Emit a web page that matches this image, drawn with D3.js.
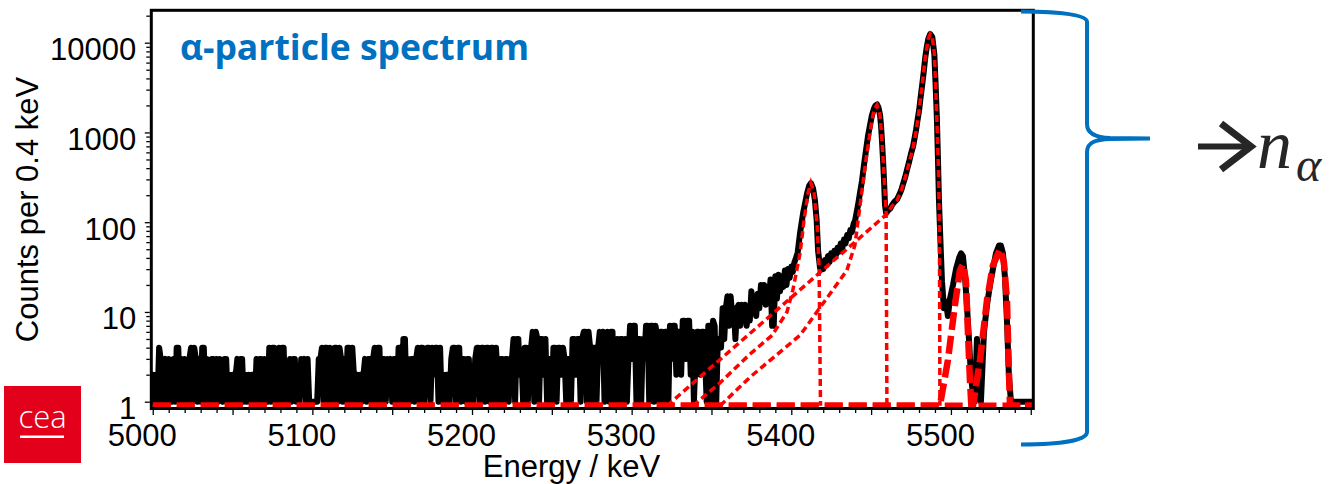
<!DOCTYPE html>
<html>
<head>
<meta charset="utf-8">
<script src="https://cdn.jsdelivr.net/npm/d3@7"></script>
<style>
  html, body { margin: 0; padding: 0; background: #ffffff; }
  svg { display: block; }
</style>
</head>
<body>
<svg id="chart" width="1332" height="484"></svg>
<script>
// ---- measured spectrum: counts per bin, 1 keV steps from 5000 keV ----
const lowStart = 5000;
const lowStep = 1;
const lowCounts = [
  2,1,2,1,4,3,1,2,3,1,   3,2,1,3,1,4,4,1,3,1,   3,2,1,3,4,1,4,3,1,3,   1,4,4,1,3,2,1,3,3,1,
  3,1,3,2,1,3,3,1,2,1,   2,1,2,3,1,3,3,1,2,1,   2,1,2,2,1,3,1,3,3,1,   3,2,1,4,1,4,4,1,3,4,
  1,4,4,1,2,1,3,1,3,3,   1,2,1,3,2,3,1,3,1,1,   1,1,1,1,3,3,4,1,4,4,   1,4,3,1,4,4,1,4,3,1,
  3,1,4,4,1,4,2,1,2,1,   2,1,2,3,1,3,3,1,3,4,   1,4,4,1,3,3,1,3,2,3,   1,3,3,1,4,4,1,5,5,1,
  3,1,3,3,1,3,4,1,4,4,   1,2,4,4,1,4,2,4,4,1,   4,1,2,1,2,2,1,3,4,4,   1,4,4,1,3,3,1,3,3,1,
  2,1,3,4,4,1,4,4,1,4,   4,1,4,4,1,4,2,1,3,3,   1,3,3,1,3,3,5,1,5,5,   2,3,1,4,4,1,4,4,6,1,
  6,5,1,5,5,2,5,1,3,3,   1,4,4,1,4,4,2,4,3,1,   3,3,1,5,5,2,5,5,1,5,   6,6,1,6,4,1,4,4,1,4,
  6,3,6,1,4,6,1,6,6,1,   3,5,1,5,5,1,5,1,3,7,   3,7,7,1,5,5,1,5,3,7,   7,1,7,7,1,7,5,1,6,6,
  1,6,6,1,7,3,7,7,2,6,   6,2,8,8,3,8,8,2,6,1,   3,6,6,2,6,6,3,1,7,7,   1,8,7,1,5,5,4,11,5,11,
  15,7,15,9,11,5,11,12,7,12,  8,12,7,10,8,17,12,15,9,16,  11,20,13,20,12,19,14,23,7,7,
  25,14,26,17,25,19,29,20,30,24,  32,28,36,40,46
];

// ---- measured spectrum in the peak region ----
const peakEnergy = [
  5405.5,5407.4,5409.9,5411.2,5412.3,5413.6,5414.8,5415.9,5416.8,5418.0,
  5419,5420,5421,5422,5423,5424,5425,5426,5427,5428,5429,5430,5431,5432,5433,5434,5435,5436,5437,5438,5439,5440,
  5441.8,5443,5444.3,5445.5,5446.8,5448,5449.3,5450.5,5451.8,5452.8,5453.7,5454.6,5455.6,5456.2,5456.8,5457.5,5458.1,5458.7,5459.4,
  5460.6,5462,5463.1,5464.5,5466.3,5467.5,5468.8,5470,5471.3,5472.5,5473.8,5475,5476.3,5477.3,5478.2,5479.1,5480.1,5481,5482,5483,
  5483.9,5484.9,5485.8,5487.0,5488.3,5489.6,5490.3,5491.2,5491.9,5492.5,5493.4,5494.4,5495.6,5496.9,5498.1,5499.4,
  5501.3,5503.2,5505.1,5506.3,5507.5,5508.8,5510.0,5511.3,5512.5,5513.8,5515.0,5516.3,5517.6,5518.8,
  5520.7,5522.6,5524.5,5526.3,5528.2,5530.1,5531.3,5532.6,5533.8,5535.1,5536.3,5537.6,5552
];
const peakCounts = [
  76,126,210,255,272,240,176,105,48,31,
  36,30,38,33,42,36,45,40,48,43,52,47,58,52,64,58,72,66,82,78,95,105,
  155,210,290,430,630,900,1200,1550,1840,2000,2050,1900,1560,1200,820,480,290,155,126,
  135,142,155,168,180,200,225,265,315,385,470,580,700,880,1080,1380,1780,2450,3380,4800,
  6800,9000,11000,12500,11600,7500,3800,1450,490,176,63,22,11,13,9,14,
  20,30,40,45,42,25,12,5,2,1.2,1,5,2,1,
  6,12,20,30,45,55,55,45,25,8,2,1,1
];

// ---- fitted line components (thin dashes) ----
const fit5412E = [5338.4,5355.3,5374.2,5388.0,5397.3,5401.0,5405.5,5408.0,5410.5,5412.3,5414.2,5416.2,5417.4,5418.3];
const fit5412C = [0.9,1.62,3.4,5.5,10,17.6,45,106,212,274,217,93,32,0.9];
const fit5454E = [5355.4,5374.2,5405.5,5434.8,5439.9,5443.1,5446.8,5450.0,5451.8,5453.7,5455.6,5456.8,5458.1,5459.4,5459.9];
const fit5454C = [0.9,1.88,5.5,29,56,155,495,1200,1780,2020,1560,815,333,126,0.9];
const fit5487E = [5322.1,5459.9,5463.1,5466.3,5468.8,5471.3,5473.8,5476.3,5478.2,5480.1,5482.0,5483.9,5485.8,5487.0,5488.3,5489.6,5490.3,5491.2,5492.2,5492.8,5493.1];
const fit5487C = [0.9,123,151,176,223,310,457,686,1035,1780,3370,6760,11000,12500,11570,7670,3830,1380,380,82,0.9];

// ---- fitted weak lines (thick dashes) ----
const fit5507E = [5000,5493.1,5498.1,5502.5,5505.6,5507.5,5509.4,5510.6,5511.9,5512.8,5552];
const fit5507C = [0.9,0.9,2.9,11.9,29,34,22.7,6.3,1.75,0.9,0.9];
const fit5531E = [5000,5513.8,5518.2,5522.6,5526.3,5530.7,5533.2,5535.1,5536.3,5537.0,5552];
const fit5531C = [0.9,0.9,2.9,13.6,33,50,36,13.6,2.25,0.9,0.9];

// ---- axis ticks ----
const yMajorTicks = [1, 10, 100, 1000, 10000];
const xLabelTicks = [5000, 5100, 5200, 5300, 5400, 5500];

// ---------------------------------------------------------------
const svg = d3.select("#chart");
const plot = { left: 151.3, right: 1033.3, top: 10.3, bottom: 408.5 };
const axisFont = "'Liberation Sans', Arial, sans-serif";

const x = d3.scaleLinear().domain([4999.1, 5551.6]).range([plot.left, plot.right]);
const y = d3.scaleLog().domain([0.84, 22960]).range([plot.bottom, plot.top]);
const floorCount = 0.9;

const line = d3.line()
  .x(d => x(d[0]))
  .y(d => y(Math.max(d[1], floorCount)));

const pairs = (es, cs) => es.map((e, i) => [e, cs[i]]);

const spectrum = lowCounts.map((c, i) => [lowStart + i * lowStep, c])
  .concat(pairs(peakEnergy, peakCounts));

svg.append("defs").append("clipPath").attr("id", "plotClip")
  .append("rect")
  .attr("x", plot.left).attr("y", plot.top)
  .attr("width", plot.right - plot.left).attr("height", plot.bottom - plot.top);

const g = svg.append("g").attr("clip-path", "url(#plotClip)");

// measured spectrum
g.append("path")
  .datum(spectrum)
  .attr("d", line)
  .attr("fill", "none")
  .attr("stroke", "#000")
  .attr("stroke-width", 6)
  .attr("stroke-linejoin", "round")
  .attr("stroke-linecap", "round");

// thin fitted components
[[fit5412E, fit5412C], [fit5454E, fit5454C], [fit5487E, fit5487C]].forEach(([es, cs]) => {
  g.append("path")
    .datum(pairs(es, cs))
    .attr("d", line)
    .attr("fill", "none")
    .attr("stroke", "#ff0000")
    .attr("stroke-width", 3.5)
    .attr("stroke-dasharray", "7,4");
});

// thick fitted components
[[fit5507E, fit5507C], [fit5531E, fit5531C]].forEach(([es, cs]) => {
  g.append("path")
    .datum(pairs(es, cs))
    .attr("d", line)
    .attr("fill", "none")
    .attr("stroke", "#ff0000")
    .attr("stroke-width", 6.5)
    .attr("stroke-dasharray", "18,6");
});

// frame
svg.append("rect")
  .attr("x", plot.left).attr("y", plot.top)
  .attr("width", plot.right - plot.left).attr("height", plot.bottom - plot.top)
  .attr("fill", "none").attr("stroke", "#000").attr("stroke-width", 3);

// y axis: minor ticks
const yMinor = [];
[1, 10, 100, 1000, 10000].forEach(dec => {
  for (let k = 2; k <= 9; k++) if (dec * k < 22960) yMinor.push(dec * k);
});
const yMinorAxis = svg.append("g").attr("transform", `translate(${plot.left - 1.5},0)`)
  .call(d3.axisLeft(y).tickValues(yMinor).tickSize(3.5).tickFormat(""));
yMinorAxis.select(".domain").remove();

const yAxis = svg.append("g").attr("transform", `translate(${plot.left - 1.5},0)`)
  .call(d3.axisLeft(y).tickValues(yMajorTicks).tickSize(5).tickPadding(8.6).tickFormat(d3.format("d")));
yAxis.select(".domain").remove();
yAxis.selectAll("text")
  .attr("dy", 17)
  .attr("font-family", axisFont)
  .attr("font-size", 31)
  .attr("fill", "#000");

// x axis
const xMinor = d3.range(5000, 5551, 10).filter(v => v % 50 !== 0);
const xMid = d3.range(5000, 5551, 50).filter(v => v % 100 !== 0);
const xMinorAxis = svg.append("g").attr("transform", `translate(0,${plot.bottom + 1.5})`)
  .call(d3.axisBottom(x).tickValues(xMinor).tickSize(3).tickFormat(""));
xMinorAxis.select(".domain").remove();
const xMidAxis = svg.append("g").attr("transform", `translate(0,${plot.bottom + 1.5})`)
  .call(d3.axisBottom(x).tickValues(xMid).tickSize(5).tickFormat(""));
xMidAxis.select(".domain").remove();

const xAxis = svg.append("g").attr("transform", `translate(0,${plot.bottom + 1.5})`)
  .call(d3.axisBottom(x).tickValues(xLabelTicks).tickSize(5).tickFormat(d3.format("d")));
xAxis.select(".domain").remove();
xAxis.selectAll("text")
  .attr("x", -11)
  .attr("y", 35.5)
  .attr("dy", 0)
  .attr("font-family", axisFont)
  .attr("font-size", 31)
  .attr("fill", "#000");

svg.selectAll(".tick line").attr("stroke", "#000").attr("stroke-width", 1.3);

// axis titles
svg.append("text")
  .attr("transform", "translate(37.5,209.5) rotate(-90)")
  .attr("text-anchor", "middle")
  .attr("font-family", axisFont)
  .attr("font-size", 31)
  .attr("fill", "#000")
  .text("Counts per 0.4 keV");

svg.append("text")
  .attr("x", 571.5).attr("y", 477)
  .attr("text-anchor", "middle")
  .attr("font-family", axisFont)
  .attr("font-size", 31)
  .attr("fill", "#000")
  .text("Energy / keV");

// chart title
svg.append("text")
  .attr("x", 180).attr("y", 60)
  .attr("font-family", "'Open Sans', sans-serif")
  .attr("font-weight", 700)
  .attr("font-size", 35.5)
  .attr("fill", "#0070C0")
  .text("α-particle spectrum");

// curly brace grouping the spectrum
svg.append("path")
  .attr("d", "M1021,11.5 C1062,11.5 1087,15 1087,22 L1087,124 C1087,134 1096,137.5 1110,138 L1150,138.5 " +
             "L1110,139 C1096,139.5 1087,142 1087,152 L1087,432 C1087,440 1062,444.5 1021,444.5")
  .attr("fill", "none")
  .attr("stroke", "#0070C0")
  .attr("stroke-width", 4);

// arrow
svg.append("path")
  .attr("d", "M1198,146.5 L1247,146.5")
  .attr("stroke", "#262626").attr("stroke-width", 6).attr("fill", "none");
svg.append("path")
  .attr("d", "M1221,123.5 L1251,146.5 L1221,169.5")
  .attr("stroke", "#262626").attr("stroke-width", 7).attr("fill", "none")
  .attr("stroke-linejoin", "miter");

// n with subscript alpha
svg.append("text")
  .attr("x", 1257).attr("y", 168)
  .attr("font-family", "'Liberation Serif', serif")
  .attr("font-style", "italic")
  .attr("font-size", 70)
  .attr("fill", "#262626")
  .text("n");
svg.append("text")
  .attr("x", 1296).attr("y", 181)
  .attr("font-family", "'Liberation Serif', serif")
  .attr("font-style", "italic")
  .attr("font-size", 48)
  .attr("fill", "#262626")
  .text("α");

// institute logo
svg.append("rect")
  .attr("x", 4).attr("y", 386).attr("width", 77).attr("height", 77)
  .attr("fill", "#E2001A");
svg.append("text")
  .attr("x", 42.5).attr("y", 428)
  .attr("text-anchor", "middle")
  .attr("font-family", "'Open Sans', sans-serif")
  .attr("font-weight", 300)
  .attr("font-size", 31)
  .attr("fill", "#fff")
  .text("cea");
svg.append("rect")
  .attr("x", 20).attr("y", 435.5).attr("width", 44).attr("height", 2.5)
  .attr("fill", "#fff");
</script>
</body>
</html>
